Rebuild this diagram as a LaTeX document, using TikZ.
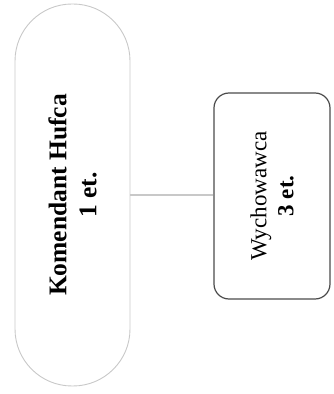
\documentclass[tikz,border=0pt]{standalone}
\usepackage{fontspec}
\setmainfont{Liberation Serif}
\definecolor{szaryJasny}{RGB}{200,200,200}
\definecolor{szaryCiemny}{RGB}{75,75,75}

\begin{document}
\begin{tikzpicture}[x=1pt, y=1pt,
	    owal/.style={rectangle, draw=szaryJasny, line width=0.9pt, rotate=90, minimum width=382pt, minimum height=115pt, rounded corners=57pt, align=center, font=\fontsize{25.5}{30}\selectfont\bfseries},
	    ramka/.style={rectangle, draw=szaryCiemny, line width=1.2pt, rotate=90, minimum width=206pt, minimum height=116pt, rounded corners=15pt, align=center, font=\fontsize{23}{27}\selectfont},
	    line/.style={draw=szaryJasny, line width=1.3pt}]
	    \useasboundingbox (0,0) rectangle (333,394);
	    
	    \node [owal] (komendant) at (72.5,199) {Komendant Hufca\\1 et.};
	    \node [ramka] (wychowawca) at (272,198) {Wychowawca\\\textbf{3 et.}};
	    
	    \path [line] (komendant) -- (komendant -| wychowawca.north);
	\end{tikzpicture}
\end{document}
